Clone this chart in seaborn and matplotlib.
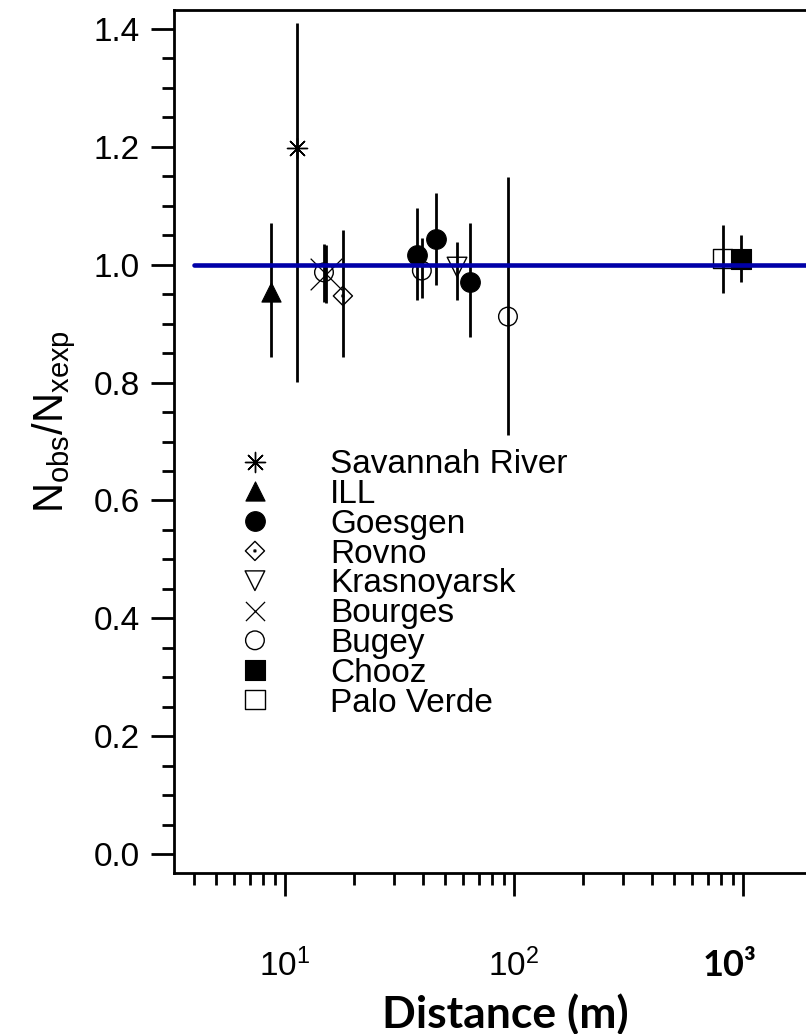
import numpy as np
import pandas as pd
import matplotlib
matplotlib.use("Agg")
import matplotlib.pyplot as plt
import seaborn as sns
from matplotlib.path import Path
from matplotlib.ticker import FixedLocator, LogLocator, MultipleLocator, NullFormatter, FormatStrFormatter
from matplotlib.font_manager import FontProperties
from matplotlib.transforms import ScaledTranslation

# ---------------- data ----------------
experiments = ["Savannah River", "ILL", "Goesgen", "Goesgen", "Goesgen", "Rovno",
               "Krasnoyarsk", "Bourges", "Bugey", "Bugey", "Bugey", "Chooz", "Palo Verde"]
distance = [11.25, 8.69, 37.7, 45.6, 64.3, 17.9, 56.4, 15.1, 14.8, 39.6, 94.1, 980.0, 815.0]
ratio = [1.198, 0.953, 1.016, 1.043, 0.971, 0.947, 0.996, 0.985, 0.987, 0.990, 0.912, 1.010, 1.010]
err_low = [0.397, 0.110, 0.076, 0.077, 0.093, 0.104, 0.056, 0.050, 0.050, 0.047, 0.201, 0.040, 0.058]
err_high = [0.212, 0.117, 0.080, 0.079, 0.099, 0.112, 0.043, 0.048, 0.048, 0.055, 0.237, 0.040, 0.057]

legend_order = ["Savannah River", "ILL", "Goesgen", "Rovno", "Krasnoyarsk",
                "Bourges", "Bugey", "Chooz", "Palo Verde"]

ref_line_x = [4.0, 2000.0]
ref_line_y = [1.0, 1.0]

y_ticks = [0.0, 0.2, 0.4, 0.6, 0.8, 1.0, 1.2, 1.4]
x_ticks = [10, 100, 1000]
x_ticklabels = [r"$10^{1}$", r"$10^{2}$", "10³"]
x_label = "Distance (m)"
y_label = r"$N_{obs}/N_{xexp}$"

df = pd.DataFrame({"experiment": experiments, "distance": distance, "ratio": ratio,
                   "lo": err_low, "hi": err_high})

# ---------------- style ----------------
sns.set_style("ticks")
plt.rcParams.update({
    "font.family": ["Liberation Sans", "DejaVu Sans"],
    "mathtext.fontset": "custom",
    "mathtext.rm": "Liberation Sans",
    "mathtext.it": "Liberation Sans:italic",
    "mathtext.bf": "Liberation Sans:bold",
    "mathtext.default": "regular",
    "text.color": "black",
    "axes.labelcolor": "black",
    "axes.edgecolor": "black",
    "xtick.color": "black",
    "ytick.color": "black",
})

# diamond with a centre dot (Rovno)
_d = 1.0
_e = 0.09
rovno_path = Path(
    [(0, _d), (_d, 0), (0, -_d), (-_d, 0), (0, _d),
     (-_e, -_e), (_e, -_e), (_e, _e), (-_e, _e), (-_e, -_e)],
    [Path.MOVETO, Path.LINETO, Path.LINETO, Path.LINETO, Path.CLOSEPOLY,
     Path.MOVETO, Path.LINETO, Path.LINETO, Path.LINETO, Path.CLOSEPOLY])

styles = {
    "Savannah River": dict(marker=(8, 2, 0), s=210, color="black", linewidth=1.0),
    "ILL": dict(marker="^", s=190, facecolor="black", edgecolor="black", linewidth=0.8),
    "Goesgen": dict(marker="o", s=200, facecolor="black", edgecolor="black", linewidth=0.8),
    "Rovno": dict(marker=rovno_path, s=190, facecolor="none", edgecolor="black", linewidth=1.0),
    "Krasnoyarsk": dict(marker="v", s=200, facecolor="none", edgecolor="black", linewidth=1.0),
    "Bourges": dict(marker="x", s=520, color="black", linewidth=0.9),
    "Bugey": dict(marker="o", s=180, facecolor="none", edgecolor="black", linewidth=1.0),
    "Chooz": dict(marker="s", s=190, facecolor="black", edgecolor="black", linewidth=0.8),
    "Palo Verde": dict(marker="s", s=190, facecolor="none", edgecolor="black", linewidth=1.0),
}
legend_sizes = {"Bourges": 190}

fig = plt.figure(figsize=(8.06, 10.34), dpi=100)
ax = fig.add_axes([174 / 806, 161 / 1034, 632 / 806, 863 / 1034])

# error bars
ax.errorbar(df["distance"], df["ratio"], yerr=[df["lo"], df["hi"]], fmt="none",
            ecolor="black", elinewidth=2.0, capsize=0, zorder=2)

# markers
for name in legend_order:
    sub = df[df["experiment"] == name]
    sns.scatterplot(data=sub, x="distance", y="ratio", ax=ax, label=name,
                    zorder=3, **styles[name])

# reference line at 1
sns.lineplot(x=ref_line_x, y=ref_line_y, ax=ax, color="#0000a8", linewidth=3.3,
             zorder=5, legend=False)

# axes
ax.set_xscale("log")
ax.set_xlim(3.276, 1884)
ax.set_ylim(-0.0322, 1.4322)

ax.yaxis.set_major_locator(FixedLocator(y_ticks))
ax.yaxis.set_major_formatter(FormatStrFormatter("%.1f"))
ax.yaxis.set_minor_locator(MultipleLocator(0.05))
ax.xaxis.set_major_locator(FixedLocator(x_ticks))
ax.set_xticklabels(x_ticklabels)
ax.xaxis.set_minor_locator(LogLocator(base=10, subs=np.arange(2, 10)))
ax.xaxis.set_minor_formatter(NullFormatter())

ax.tick_params(axis="both", which="major", direction="out", length=16.5, width=2.0,
               labelsize=24, top=False, right=False)
ax.tick_params(axis="both", which="minor", direction="out", length=8.6, width=2.0,
               top=False, right=False)
ax.tick_params(axis="y", which="major", pad=8)
ax.tick_params(axis="x", which="major", pad=38)

lbl3 = ax.get_xticklabels()[2]
lbl3.set_fontproperties(FontProperties(family="Lato", weight="bold", size=26))
lbl3.set_transform(lbl3.get_transform() +
                   ScaledTranslation(-0.13, 0.0, fig.dpi_scale_trans))

for sp in ["left", "bottom", "top"]:
    ax.spines[sp].set_linewidth(2.0)
    ax.spines[sp].set_color("black")
ax.spines["right"].set_visible(False)

ax.set_xlabel(x_label, fontfamily="Lato", fontweight="bold", fontsize=32)
ax.xaxis.set_label_coords(0.524, -0.139)
ax.set_ylabel(y_label, fontsize=30)
ax.yaxis.set_label_coords(-0.152, 0.5226)

leg = ax.legend(loc="upper left", bbox_to_anchor=(0.1017, 0.4911), frameon=False,
                fontsize=24, handlelength=1.0, handletextpad=1.75, labelspacing=-0.036,
                borderpad=0, borderaxespad=0, scatteryoffsets=[0.5], markerscale=1.0)
for h, t in zip(leg.legend_handles, leg.get_texts()):
    if t.get_text() in legend_sizes:
        h.set_sizes([legend_sizes[t.get_text()]])

fig.savefig("out.png", dpi=100)
